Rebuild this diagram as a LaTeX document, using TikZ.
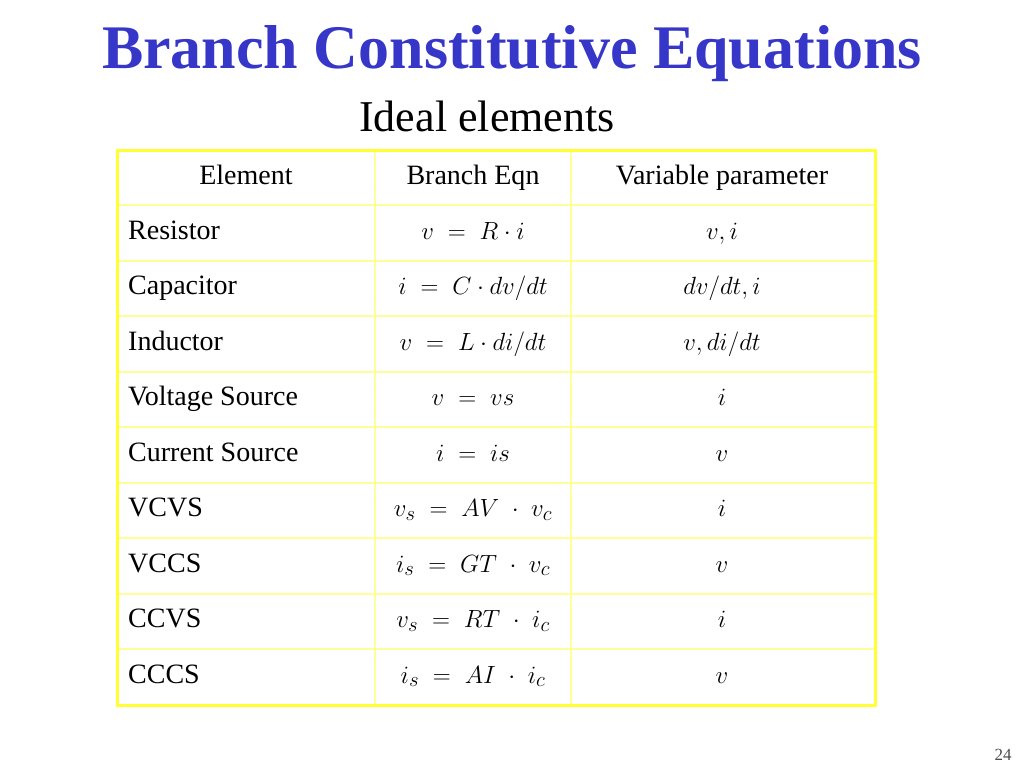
\documentclass[tikz,border=0pt]{standalone}
\usepackage{fontspec}
\setmainfont{Liberation Serif}
\definecolor{ttl}{HTML}{3636C8}
\definecolor{yb}{HTML}{FFFF33}
\definecolor{yi}{HTML}{FFFF99}
\begin{document}
\begin{tikzpicture}[x=1pt,y=-1pt,
  cell/.style={font=\fontsize{28}{30}\selectfont,inner sep=0pt,anchor=base},
  lcell/.style={cell,anchor=base west}]
\useasboundingbox (0,0) rectangle (1024,768);
\node[font=\fontsize{62}{66}\bfseries\selectfont,text=ttl,anchor=base] (title) at (512,68) {Branch Constitutive Equations};
\node[font=\fontsize{44}{48}\selectfont,anchor=base] (sub) at (487,131) {Ideal elements};
% grid
\foreach \y in {205,261,316,372,427,483,538,594,649}
  \draw[yi,line width=1.5pt] (117,\y) -- (875,\y);
\draw[yi,line width=1.5pt] (375,150) -- (375,705);
\draw[yi,line width=1.5pt] (571,150) -- (571,705);
\draw[yb,line width=3pt] (117,150) rectangle (875,705);
\node[cell] (h1) at (246,184) {Element};
\node[cell] (h2) at (473,184) {Branch Eqn};
\node[cell] (h3) at (722,184) {Variable parameter};
\foreach \n/\a/\b/\c [count=\i] in {
 Resistor/{v\ =\ R\cdot i}/{v,i},
 Capacitor/{i\ =\ C\cdot dv/dt}/{dv/dt,i},
 Inductor/{v\ =\ L\cdot di/dt}/{v,di/dt},
 Voltage Source/{v\ =\ vs}/{i},
 Current Source/{i\ =\ is}/{v},
 VCVS/{v_s\ =\ AV\ \cdot\ v_c}/{i},
 VCCS/{i_s\ =\ GT\ \cdot\ v_c}/{v},
 CCVS/{v_s\ =\ RT\ \cdot\ i_c}/{i},
 CCCS/{i_s\ =\ AI\ \cdot\ i_c}/{v}}{
  \pgfmathsetmacro{\yy}{239+55.5*(\i-1)}
  \node[lcell] (n\i) at (128,\yy) {\n};
  \node[cell] (e\i) at (473,\yy) {$\a$};
  \node[cell] (p\i) at (722,\yy) {$\b$};
}
\node[font=\fontsize{17}{20}\selectfont,text=black!70] (pg) at (1003,755) {24};
\end{tikzpicture}
\end{document}
